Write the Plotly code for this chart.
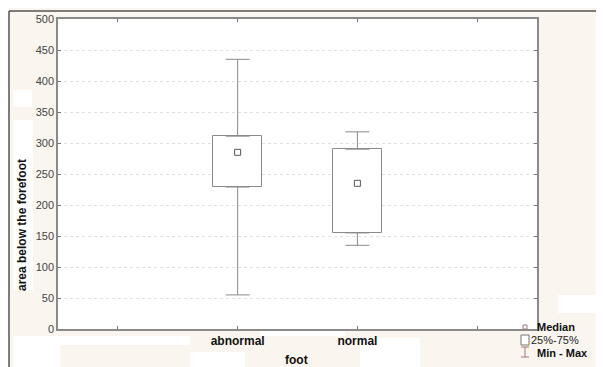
import plotly.graph_objects as go

categories = ["abnormal", "normal"]
x_pos = [0, 1]
v_min = [55, 135]
v_q1 = [229, 155]
v_median = [285, 235]
v_q3 = [311, 290]
v_max = [435, 318]
y_ticks = [0, 50, 100, 150, 200, 250, 300, 350, 400, 450, 500]
legend_labels = ["Median", "25%-75%", "Min - Max"]

# page offset from the browser's default body margin
OFF = 8
W, H = 604 - OFF, 367 - OFF
L, R, T, B = 58, 537, 19, 329  # page coordinates of the plot area
BG = "#faf6ef"
LINE = "#8a8a8a"
FONT = "Liberation Sans, Arial, sans-serif"


def px(x):
    return (x - L) / (R - L)


def py(y):
    return (B - y) / (B - T)


fig = go.Figure()

# boxes (25%-75%)
fig.add_trace(go.Bar(
    x=x_pos, base=v_q1, y=[q3 - q1 for q1, q3 in zip(v_q1, v_q3)],
    width=0.41, marker=dict(color="white", line=dict(color=LINE, width=1)),
    showlegend=False, hoverinfo="skip"))

# upper whiskers
fig.add_trace(go.Scatter(
    x=x_pos, y=v_max, mode="markers", marker=dict(size=1, color="rgba(0,0,0,0)"),
    error_y=dict(type="data", symmetric=False, array=[0, 0],
                 arrayminus=[mx - q3 for mx, q3 in zip(v_max, v_q3)],
                 width=12, thickness=1, color=LINE),
    showlegend=False, hoverinfo="skip"))
# lower whiskers
fig.add_trace(go.Scatter(
    x=x_pos, y=v_min, mode="markers", marker=dict(size=1, color="rgba(0,0,0,0)"),
    error_y=dict(type="data", symmetric=False,
                 array=[q1 - mn for mn, q1 in zip(v_min, v_q1)],
                 arrayminus=[0, 0], width=12, thickness=1, color=LINE),
    showlegend=False, hoverinfo="skip"))
# medians
fig.add_trace(go.Scatter(
    x=x_pos, y=v_median, mode="markers",
    marker=dict(symbol="square-open", size=6, color="#555555", line=dict(width=1)),
    showlegend=False, hoverinfo="skip"))

shapes = []
# outer frame lines
shapes.append(dict(type="line", xref="paper", yref="paper", x0=px(9), x1=px(610), y0=py(11), y1=py(11),
                   line=dict(color="#555555", width=1.5), layer="below"))
shapes.append(dict(type="line", xref="paper", yref="paper", x0=px(9), x1=px(9), y0=py(11), y1=py(372),
                   line=dict(color="#555555", width=1.5), layer="below"))
# white patches in the background
for (x0, y0, x1, y1) in [(13, 90, 32, 107), (13, 120, 33, 290), (13, 336, 190, 345),
                         (13, 345, 60, 372), (190, 352, 245, 372), (360, 338, 420, 372),
                         (260, 330, 345, 336), (558, 295, 598, 313)]:
    shapes.append(dict(type="rect", xref="paper", yref="paper", x0=px(x0), x1=px(x1),
                       y0=py(y0), y1=py(y1), fillcolor="white", line=dict(width=0), layer="below"))

# legend icons
LC = "#a07878"
shapes.append(dict(type="rect", xref="paper", yref="paper", x0=px(523), x1=px(527), y0=py(325), y1=py(329),
                   line=dict(color=LC, width=1), fillcolor="white"))
shapes.append(dict(type="rect", xref="paper", yref="paper", x0=px(521), x1=px(529), y0=py(335), y1=py(345),
                   line=dict(color="#777777", width=1), fillcolor="white"))
shapes.append(dict(type="line", xref="paper", yref="paper", x0=px(525), x1=px(525), y0=py(347), y1=py(357),
                   line=dict(color=LC, width=1)))
shapes.append(dict(type="line", xref="paper", yref="paper", x0=px(521), x1=px(529), y0=py(347), y1=py(347),
                   line=dict(color=LC, width=1)))
shapes.append(dict(type="line", xref="paper", yref="paper", x0=px(521), x1=px(529), y0=py(357), y1=py(357),
                   line=dict(color=LC, width=1)))


def ann(text, x, y, xanchor="center", size=12, color="#111111", angle=0):
    return dict(text=text, xref="paper", yref="paper", x=px(x), y=py(y),
                xanchor=xanchor, yanchor="middle", textangle=angle, showarrow=False,
                font=dict(size=size, color=color, family=FONT))


annotations = [
    ann("<b>area below the forefoot</b>", 22, 225, angle=-90),
    ann("<b>foot</b>", 296, 360),
    ann("<b>" + legend_labels[0] + "</b>", 535, 327, xanchor="left", size=11),
    ann(legend_labels[1], 529, 340, xanchor="left", size=11, color="#222222"),
    ann("<b>" + legend_labels[2] + "</b>", 535, 353, xanchor="left", size=11),
]

fig.update_layout(
    width=W, height=H,
    margin=dict(l=L - OFF, r=604 - R, t=T - OFF, b=367 - B, autoexpand=False),
    paper_bgcolor=BG, plot_bgcolor="white",
    font=dict(family=FONT, size=11, color="#333333"),
    shapes=shapes, annotations=annotations,
    showlegend=False, bargap=0,
)
fig.update_xaxes(
    range=[-1.5, 2.5], tickvals=[-1, 0, 1, 2],
    ticktext=["", "<b>" + categories[0] + "</b>", "<b>" + categories[1] + "</b>", ""],
    tickfont=dict(size=12, color="#111111"),
    ticks="inside", ticklen=3, tickcolor="#777777",
    showline=True, linecolor=LINE, linewidth=1.5, mirror="allticks",
    showgrid=False, zeroline=False,
)
fig.update_yaxes(
    range=[0, 500], tickvals=y_ticks,
    tickfont=dict(size=11, color="#444444"),
    ticks="inside", ticklen=3, tickcolor="#777777",
    showline=True, linecolor=LINE, linewidth=1.5, mirror="allticks",
    showgrid=True, gridcolor="#e0e0e0", griddash="dot", gridwidth=1,
    zeroline=False,
)

fig.write_html("out.html")
